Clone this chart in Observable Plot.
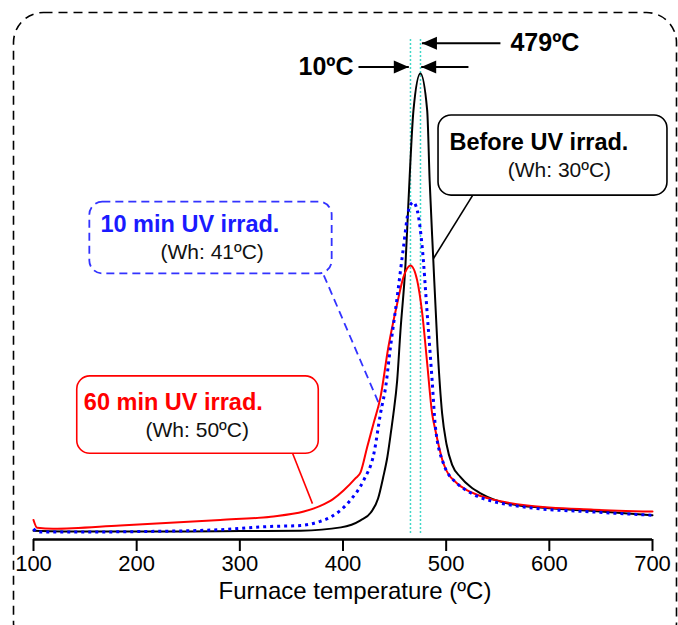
<!DOCTYPE html>
<html><head><meta charset="utf-8">
<script src="https://cdn.jsdelivr.net/npm/d3@7"></script>
<script src="https://cdn.jsdelivr.net/npm/@observablehq/plot@0.6"></script>
<style>body{margin:0;background:#fff} #chart svg{display:block}</style>
</head><body><div id="chart"></div>
<script>
// ---- data (furnace temperature °C, normalized signal, black peak = 100) ----
const xTicks = [100, 200, 300, 400, 500, 600, 700];
const axisTitle = "Furnace temperature (ºC)";

const beforeT = [100,150,200,250,300,359,398,417,427,434,439,443,446.7,448.9,452.5,455.7,460.6,463.5,468.3,475,481.6,484,487.4,491.6,496.1,500.3,505.8,513.9,523.6,533.3,545.9,562.3,594.3,642.8,700];
const beforeI = [1.9,1.7,1.7,1.7,1.8,1.9,2.6,4.1,5.8,8.8,13.4,17.7,23.4,27,34.1,44.8,59.2,72.7,92.1,100,92.1,77,60.6,41.3,27,20.5,16,13.4,11.3,9.9,8.6,7.6,6.8,6.1,5.2];

const uv10T = [100,104,150,200,281,330,359,378,388,407,420,430,436.3,442.2,444.1,452.5,458.6,463.5,468,472,476.8,481.6,486.4,489.6,497.4,510.7,520,530,545,578.5,643,700];
const uv10I = [2.3,1.6,1.6,1.7,2.1,2.8,3.0,3.9,4.8,8.4,12.7,18.5,27,34.1,37.8,52,62.7,70.6,72.4,70.6,62.7,48.5,34.1,24.1,16.3,12,10.5,9.3,8.2,6.9,5.9,5.2];

const uv60T = [100,103.6,119,184,281,330,362,378,390,400.5,412,417,423.4,429.6,436.3,444,452.5,458.6,465.4,471.9,476.8,481.6,486.4,489.6,497.4,510.7,520,530,545,578.5,643,700];
const uv60I = [4.2,2.5,2.3,3.0,4.2,4.9,6.0,7.2,8.6,10.5,13.1,14.4,19.8,24.9,30.5,41.3,50.6,56.3,58.8,55.6,48.5,37.8,27,23.4,16.3,12,10.6,9.6,8.6,7.3,6.4,6.0];

// peak markers
const peakT = [465.4, 475.1];
const peakLabels = ["10ºC", "479ºC"];

// annotation boxes
const boxNames   = ["Before UV irrad.", "10 min UV irrad.", "60 min UV irrad."];
const boxSubs    = ["(Wh: 30ºC)", "(Wh: 41ºC)", "(Wh: 50ºC)"];
const boxColors  = ["#000000", "#1a1aff", "#ff0000"];
const boxX1 = [492.6, 154.6, 142.4], boxX2 = [714.5, 389.5, 376.5];
const boxY1 = [73.8, 57, 18.4],     boxY2 = [91, 72.4, 35];
const titleT = [503.2, 164.9, 148.8], titleI = [85.3, 67.6, 29.5];
const subT   = [559.7, 223.1, 208.6], subI   = [79.2, 61.7, 23.4];
const leadX1 = [525.5, 381.4, 351.3], leadY1 = [73.8, 56.7, 18.4];
const leadX2 = [487.7, 436.3, 370.4], leadY2 = [60.3, 28.4, 7.7];

// arrows
const arrowTail = [552.6, 415, 521.6];
const arrowTip  = [476.5, 463.8, 475.8];
const arrowI    = [106.5, 101.4, 101.4];
const arrowDir  = ["left", "right", "left"];

// ---- build tables ----
const toRows = (T, I) => T.map((t, i) => ({t, v: I[i]}));
const boxes = boxNames.map((n, i) => ({n, s: boxSubs[i], c: boxColors[i], x1: boxX1[i], x2: boxX2[i], y1: boxY1[i], y2: boxY2[i],
  tt: titleT[i], ti: titleI[i], st: subT[i], si: subI[i], lx1: leadX1[i], ly1: leadY1[i], lx2: leadX2[i], ly2: leadY2[i]}));
const arrows = arrowTail.map((a, i) => ({a, b: arrowTip[i], y: arrowI[i], d: arrowDir[i]}));

const headR = {draw(ctx){ ctx.moveTo(0,0); ctx.lineTo(-15,-6.5); ctx.lineTo(-15,6.5); ctx.closePath(); }};
const headL = {draw(ctx){ ctx.moveTo(0,0); ctx.lineTo(15,-6.5); ctx.lineTo(15,6.5); ctx.closePath(); }};

const font = "Liberation Sans, Arial, Helvetica, sans-serif";
const isBlue = d => d.c === "#1a1aff";

const plot = Plot.plot({
  width: 678, height: 625,
  marginLeft: 33, marginRight: 26, marginTop: 0, marginBottom: 86,
  style: {fontFamily: font, background: "white", color: "black"},
  x: {domain: [100, 700], range: [33, 652]},
  y: {domain: [0, 100], range: [539, 73], axis: null},
  marks: [
    Plot.ruleX(peakT, {y1: 1.3, y2: 107.7, stroke: "#40d8c8", strokeWidth: 1.5, strokeDasharray: "2,2"}),
    // boxes
    Plot.rect(boxes.filter(d => !isBlue(d)), {x1: "x1", x2: "x2", y1: "y1", y2: "y2", rx: 13, fill: "white", stroke: "c", strokeWidth: 1.6}),
    Plot.rect(boxes.filter(isBlue), {x1: "x1", x2: "x2", y1: "y1", y2: "y2", rx: 13, fill: "white", stroke: "#3333ff", strokeWidth: 1.8, strokeDasharray: "8,5"}),
    Plot.link(boxes.filter(d => !isBlue(d)), {x1: "lx1", y1: "ly1", x2: "lx2", y2: "ly2", stroke: "c", strokeWidth: 1.6}),
    Plot.link(boxes.filter(isBlue), {x1: "lx1", y1: "ly1", x2: "lx2", y2: "ly2", stroke: "#3333ff", strokeWidth: 1.8, strokeDasharray: "8,5"}),
    Plot.text(boxes, {x: "tt", y: "ti", text: "n", fill: "c", textAnchor: "start", fontWeight: "bold", fontSize: 23.5}),
    Plot.text(boxes, {x: "st", y: "si", text: "s", fill: "#111", textAnchor: "start", fontSize: 21}),
    // curves
    Plot.line(toRows(beforeT, beforeI), {x: "t", y: "v", stroke: "black", strokeWidth: 2, curve: "monotone-x"}),
    Plot.line(toRows(uv60T, uv60I), {x: "t", y: "v", stroke: "#ff0000", strokeWidth: 2, curve: "monotone-x"}),
    Plot.line(toRows(uv10T, uv10I), {x: "t", y: "v", stroke: "#0000ff", strokeWidth: 3, strokeDasharray: "3,4", strokeLinecap: "butt", curve: "monotone-x"}),
    // arrows
    Plot.link(arrows, {x1: "a", x2: "b", y1: "y", y2: "y", stroke: "black", strokeWidth: 2}),
    Plot.dot(arrows.filter(d => d.d === "right"), {x: "b", y: "y", symbol: headR, fill: "black", stroke: null}),
    Plot.dot(arrows.filter(d => d.d === "left"), {x: "b", y: "y", symbol: headL, fill: "black", stroke: null}),
    Plot.text([peakLabels[0]], {x: 356.9, y: 101.4, text: d => d, textAnchor: "start", fontWeight: "bold", fontSize: 25}),
    Plot.text([peakLabels[1]], {x: 562.3, y: 106.5, text: d => d, textAnchor: "start", fontWeight: "bold", fontSize: 25}),
    // axis
    Plot.ruleY([0], {stroke: "black", strokeWidth: 2.5}),
    Plot.axisX({ticks: xTicks, tickSize: 12, tickPadding: 4, fontSize: 22, strokeWidth: 2, label: null, tickFormat: d => String(d)}),
    Plot.text([axisTitle], {frameAnchor: "bottom", dx: 12, dy: 59, text: d => d, fontSize: 24})
  ]
});

d3.select(plot).append("rect")
  .attr("x", 13.5).attr("y", 12.5).attr("width", 663).attr("height", 640)
  .attr("rx", 30).attr("ry", 30)
  .attr("fill", "none").attr("stroke", "black").attr("stroke-width", 1.6).attr("stroke-dasharray", "9,6");

document.getElementById("chart").appendChild(plot);
</script>
</body></html>
